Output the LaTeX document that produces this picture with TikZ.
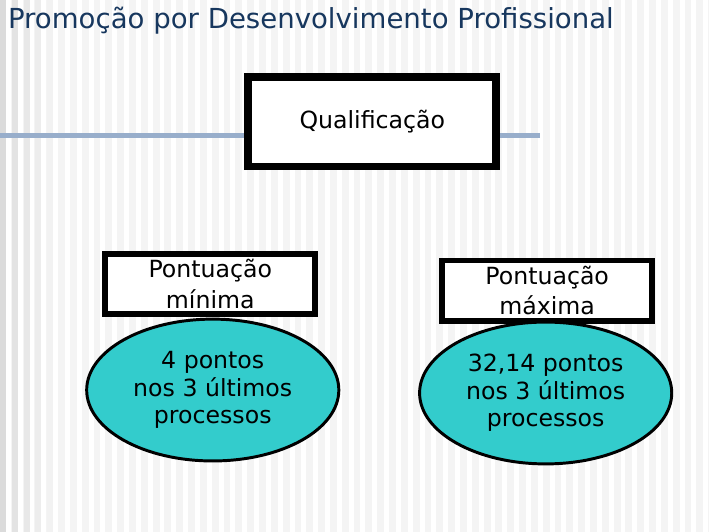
\documentclass[tikz,border=0pt]{standalone}
\usepackage{fontspec}
\setmainfont{DejaVu Sans}
\usepackage{xcolor}
\usepackage{tikz}
\usetikzlibrary{shapes.geometric, positioning}

\definecolor{titleblue}{RGB}{23,55,94}
\definecolor{rulegrey}{RGB}{152,174,203}
\definecolor{turq}{RGB}{51,204,204}
\definecolor{bgrey}{RGB}{244,244,244}

\begin{document}
\begin{tikzpicture}[
    x=1pt, y=-1pt,
    ttl/.style={anchor=west, text=titleblue, font=\fontsize{28}{32}\selectfont, inner sep=0pt},
    bigbox/.style={rectangle, draw=black, line width=8pt, fill=white, minimum width=252pt, minimum height=91pt, align=center, font=\fontsize{24}{28}\selectfont, inner sep=0pt},
    scorebox/.style={rectangle, draw=black, line width=6pt, fill=white, minimum width=213pt, minimum height=61pt, align=center, font=\fontsize{24}{31}\selectfont, inner sep=0pt},
    pts/.style={ellipse, draw=black, line width=3pt, fill=turq, minimum width=256pt, minimum height=144pt, align=center, font=\fontsize{24}{28}\selectfont, inner sep=0pt},
  ]

  % background with stripes
  \fill[bgrey] (0,0) rectangle (720,540);
  \foreach \sx in {0,12,...,720} {
    \fill[white] (\sx+6,0) rectangle (\sx+11,540);
  }
  \foreach \sx/\sh in {0/14,12/11,24/9,36/7,48/5} {
    \fill[black!\sh] (\sx,0) rectangle (\sx+6,540);
  }
  \useasboundingbox (0,0) rectangle (720,540);

  \node[ttl] (title) at (8,21) {Promoção por Desenvolvimento Profissional};

  % rule behind the top box
  \coordinate (ruleL) at (0,138);
  \coordinate (ruleR) at (548,138);
  \draw[rulegrey, line width=5pt] (ruleL) -- (ruleR);

  \node[bigbox] (qual) at (378,123.5) {Qualificação};

  \node[scorebox] (min) at (213.5,288.5) {Pontuação\\mínima};
  \node[scorebox] (max) at (555.5,295) {Pontuação\\máxima};

  \node[pts] (minpts) at (216,396) {4 pontos\\nos 3 últimos\\processos};
  \node[pts] (maxpts) at (554,399) {32,14 pontos\\nos 3 últimos\\processos};

\end{tikzpicture}
\end{document}
